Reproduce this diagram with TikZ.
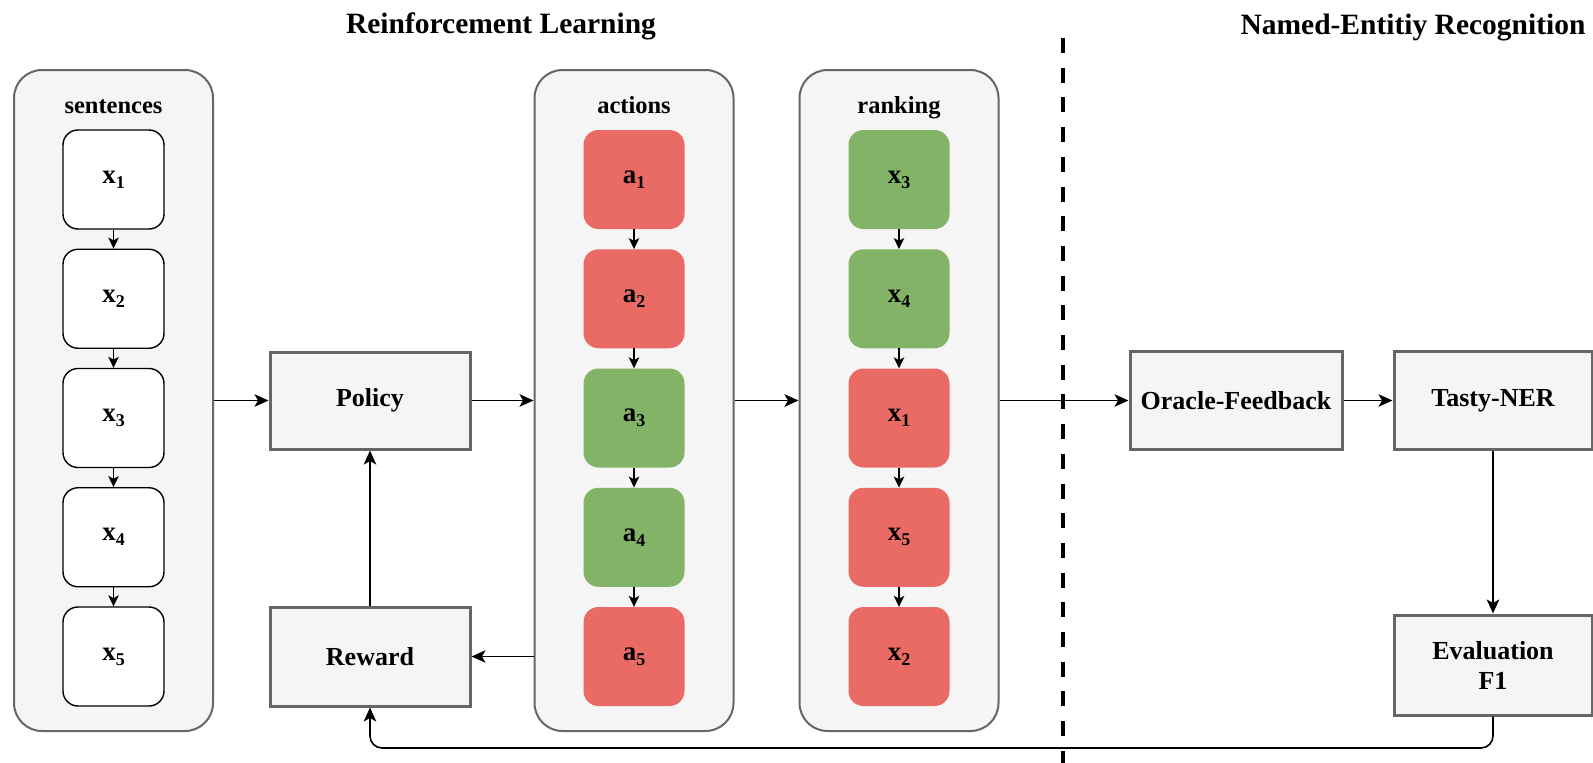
\documentclass[tikz,border=0pt]{standalone}
\usepackage{fontspec}
\setmainfont{Liberation Serif}
\usetikzlibrary{arrows.meta}

\definecolor{panelfill}{HTML}{F5F5F5}
\definecolor{panelline}{HTML}{666666}
\definecolor{badbox}{HTML}{EA6B66}
\definecolor{goodbox}{HTML}{82B366}

% bold letter with a lowered index
\newcommand{\idx}[2]{#1\raisebox{-5pt}{\fontsize{18}{18}\selectfont #2}}

\tikzset{
  txt/.style={font=\bfseries\fontsize{26}{30}\selectfont},
  title/.style={font=\bfseries\fontsize{29.5}{32}\selectfont, anchor=base},
  grouplabel/.style={font=\bfseries\fontsize{24.5}{28}\selectfont, anchor=base},
  panel/.style={draw=panelline, line width=2pt, fill=panelfill,
    rounded corners=28pt, minimum width=199pt, minimum height=661pt, inner sep=0pt},
  item/.style={txt, font=\bfseries\fontsize{27}{30}\selectfont, rounded corners=15pt,
    minimum width=101pt, minimum height=99pt, inner sep=0pt},
  plain/.style={item, draw=black, line width=1.4pt, fill=white},
  bad/.style={item, fill=badbox},
  good/.style={item, fill=goodbox},
  stage/.style={txt, draw=panelline, line width=3pt, fill=panelfill,
    inner sep=0pt, align=center},
  conn/.style={-{Stealth[length=14pt,width=12.5pt,inset=3.5pt]}, line width=1.6pt},
  link/.style={-{Stealth[length=11pt,width=10.5pt,inset=2.8pt]}, line width=1.5pt},
  divider/.style={line width=4.5pt, dash pattern=on 15pt off 14.7pt}
}

\begin{document}
\begin{tikzpicture}[x=1pt, y=-1pt]
\useasboundingbox (0,0) rectangle (1593,763);

% section titles
\node[title] (rltitle) at (501,33) {Reinforcement Learning};
\node[title] (nertitle) at (1413,34) {Named-Entitiy Recognition};

% divider between the two sections
\draw[divider] (1063,38) -- (1063,763);

% group panels
\node[panel] (sent) at (113.5,400.5) {};
\node[panel] (act) at (634,400.5) {};
\node[panel] (rank) at (899,400.5) {};
\node[grouplabel] (sentlbl) at (113.5,113) {sentences};
\node[grouplabel] (actlbl) at (634,113) {actions};
\node[grouplabel] (ranklbl) at (899,113) {ranking};

% sentences
\node[plain] (s1) at (113.5,179.5) {\idx{x}{1}};
\node[plain] (s2) at (113.5,298.75) {\idx{x}{2}};
\node[plain] (s3) at (113.5,418) {\idx{x}{3}};
\node[plain] (s4) at (113.5,537.25) {\idx{x}{4}};
\node[plain] (s5) at (113.5,656.5) {\idx{x}{5}};

% actions
\node[bad]  (a1) at (634,179.5) {\idx{a}{1}};
\node[bad]  (a2) at (634,298.75) {\idx{a}{2}};
\node[good] (a3) at (634,418) {\idx{a}{3}};
\node[good] (a4) at (634,537.25) {\idx{a}{4}};
\node[bad]  (a5) at (634,656.5) {\idx{a}{5}};

% ranking
\node[good] (r1) at (899,179.5) {\idx{x}{3}};
\node[good] (r2) at (899,298.75) {\idx{x}{4}};
\node[bad]  (r3) at (899,418) {\idx{x}{1}};
\node[bad]  (r4) at (899,537.25) {\idx{x}{5}};
\node[bad]  (r5) at (899,656.5) {\idx{x}{2}};

\foreach \col in {s,a,r}{
  \draw[link] (\col1) -- (\col2);
  \draw[link] (\col2) -- (\col3);
  \draw[link] (\col3) -- (\col4);
  \draw[link] (\col4) -- (\col5);
}

% processing stages
\node[stage, minimum width=200pt, minimum height=97pt] (policy) at (370,400.5) {Policy};
\node[stage, minimum width=200pt, minimum height=99pt] (reward) at (370,656.5) {Reward};
\node[stage, minimum width=212pt, minimum height=98pt] (oracle) at (1236,400.5) {Oracle-Feedback};
\node[stage, minimum width=198pt, minimum height=98pt] (tasty) at (1493,400.5) {Tasty-NER};
\node[stage, minimum width=198pt, minimum height=100pt] (evalf) at (1493,665) {Evaluation\\F1};

% main flow
\draw[conn] (sent) -- (policy);
\draw[conn] (policy) -- (act);
\draw[conn] (act) -- (rank);
\draw[conn] (rank.east) -- (oracle.west);
\draw[conn] (oracle) -- (tasty);
\draw[conn] (tasty.south) -- (evalf.north);

% reward loop
\draw[conn] (reward.east -| act.west) -- (reward.east);
\draw[conn] (reward.north) -- (policy.south);
\coordinate (fbline) at (0,748);
\draw[conn, rounded corners=12pt] (evalf.south) -- (evalf.south |- fbline)
  -- (reward.south |- fbline) -- (reward.south);
\end{tikzpicture}
\end{document}
